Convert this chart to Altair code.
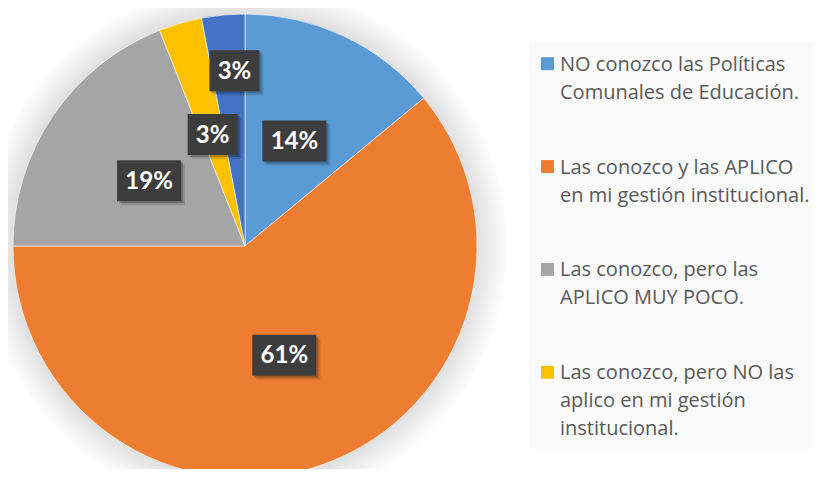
import altair as alt
import pandas as pd

# ---- data ----
categories = [
    "NO conozco las Políticas Comunales de Educación.",
    "Las conozco y las APLICO en mi gestión institucional.",
    "Las conozco, pero las APLICO MUY POCO.",
    "Las conozco, pero NO las aplico en mi gestión institucional.",
    "Otra respuesta",
]
percentages = [14, 61, 19, 3, 3]
colors = ["#5B9BD5", "#ED7D31", "#A5A5A5", "#FFC000", "#4472C4"]
legend_text = [
    "NO conozco las Políticas\nComunales de Educación.",
    "Las conozco y las APLICO\nen mi gestión institucional.",
    "Las conozco, pero las\nAPLICO MUY POCO.",
    "Las conozco, pero NO las\naplico en mi gestión\ninstitucional.",
]

df = pd.DataFrame({
    "idx": list(range(len(categories))),
    "cat": categories,
    "pct": percentages,
    "label": [f"{p}%" for p in percentages],
})
legend_df = pd.DataFrame({"cat": categories[:4], "txt": legend_text})

# ---- layout ----
W, H = 805, 461
CX, CY, R = 237, 238, 232
xs = alt.Scale(domain=[-CX, W - CX], nice=False, zero=False)
ys = alt.Scale(domain=[-(H - CY), CY], nice=False, zero=False)
color_scale = alt.Scale(domain=categories, range=colors)

one = alt.Data(values=[{"k": 1}])

# soft glow around the pie
glow_layers = []
for i in range(16):
    glow_layers.append(
        alt.Chart(one).mark_arc(radius=R + 1 + 2 * i, theta=0, theta2=6.2832,
                                color="#000000", opacity=0.0065)
        .encode(x=alt.value(CX), y=alt.value(CY))
    )

legend_bg = alt.Chart(one).mark_rect(color="#fafafa").encode(
    x=alt.value(521), x2=alt.value(W), y=alt.value(34), y2=alt.value(441)
)

pie = alt.Chart(df).mark_arc(radius=R, stroke="#ffffff", strokeWidth=0.6).encode(
    theta=alt.Theta("pct:Q", stack=True),
    order=alt.Order("idx:Q"),
    color=alt.Color("cat:N", scale=color_scale, legend=None),
    x=alt.value(CX), y=alt.value(CY),
)

lab = alt.Chart(df).transform_window(
    cum="sum(pct)", sort=[alt.SortField("idx")], frame=[None, 0]
).transform_joinaggregate(
    tot="sum(pct)"
).transform_calculate(
    mid="2*PI*(datum.cum - datum.pct/2)/datum.tot",
    lr="datum.idx == 4 ? 176 : 116",
    lx="datum.lr*sin(datum.mid) + (datum.idx == 4 ? 6 : 0)",
    ly="datum.lr*cos(datum.mid)",
    hw="11 + 7*length(datum.label)",
    x0="datum.lx - datum.hw",
    x1="datum.lx + datum.hw",
    y0="datum.ly - 20.5",
    y1="datum.ly + 20.5",
)

def shadow(off, op):
    return lab.transform_calculate(
        sx0=f"datum.x0 + {off}", sx1=f"datum.x1 + {off}",
        sy0=f"datum.y0 - {off}", sy1=f"datum.y1 - {off}",
    ).mark_rect(color="#000000", opacity=op).encode(
        x=alt.X("sx0:Q", scale=xs, axis=None), x2="sx1:Q",
        y=alt.Y("sy0:Q", scale=ys, axis=None), y2="sy1:Q",
    )

boxes = lab.mark_rect(color="#3d3d3d").encode(
    x=alt.X("x0:Q", scale=xs, axis=None), x2="x1:Q",
    y=alt.Y("y0:Q", scale=ys, axis=None), y2="y1:Q",
)
texts = lab.mark_text(font="Lato", fontWeight="bold", fontSize=24, color="#ffffff",
                      align="center", baseline="middle", dy=1).encode(
    x=alt.X("lx:Q", scale=xs, axis=None),
    y=alt.Y("ly:Q", scale=ys, axis=None),
    text="label:N",
)

leg_y = alt.Y("cat:N", scale=alt.Scale(type="point", domain=categories[:4],
                                        range=[55.7, 364.3], padding=0), axis=None)
leg_sq = alt.Chart(legend_df).mark_square(size=169, opacity=1).encode(
    x=alt.value(539.5), y=leg_y,
    color=alt.Color("cat:N", scale=color_scale, legend=None),
)
leg_txt = alt.Chart(legend_df).mark_text(
    align="left", baseline="top", dy=-9, lineBreak="\n", lineHeight=28,
    font="Open Sans", fontSize=20, color="#595959",
).encode(x=alt.value(552), y=leg_y, text="txt:N")

chart = alt.layer(
    *glow_layers, legend_bg, pie, shadow(4, 0.12), shadow(2, 0.22), boxes, texts,
    leg_sq, leg_txt,
).resolve_scale(
    x="independent", y="independent"
).properties(
    width=W, height=H, padding=0,
    autosize=alt.AutoSizeParams(type="none"),
    background="#ffffff",
).configure_view(stroke=None)

chart.save("out.html", embed_options={"renderer": "svg", "actions": False})
